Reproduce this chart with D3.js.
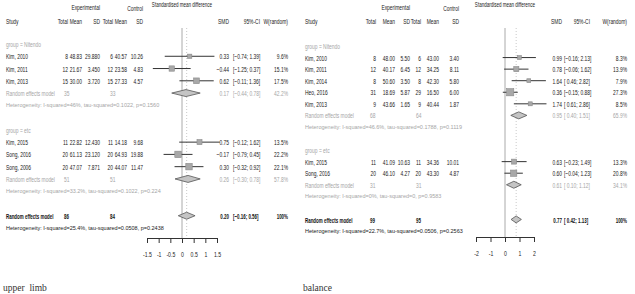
<!DOCTYPE html>
<html>
<head>
<meta charset="utf-8">
<script src="https://cdn.jsdelivr.net/npm/d3@7/dist/d3.min.js"></script>
<style>
  body { margin: 0; background: #fff; }
  text { white-space: pre; }
</style>
</head>
<body>
<svg id="chart" width="635" height="294"></svg>
<script>
// ---- upper limb ----
var ulStudy   = ["Kim, 2010", "Kim, 2011", "Kim, 2013", "Kim, 2015", "Song, 2016", "Song, 2006"];
var ulGroup   = ["Nitendo", "Nitendo", "Nitendo", "etc", "etc", "etc"];
var ulExpN    = [8, 12, 15, 11, 20, 20];
var ulExpMean = [48.83, 21.67, 30.00, 22.82, 61.13, 47.07];
var ulExpSD   = [29.880, 3.450, 3.720, 12.430, 23.120, 7.871];
var ulCtlN    = [6, 12, 15, 11, 20, 20];
var ulCtlMean = [40.57, 23.58, 27.33, 14.18, 64.93, 44.07];
var ulCtlSD   = [10.26, 4.83, 4.57, 9.68, 19.88, 11.47];
var ulSmd     = [0.33, -0.44, 0.62, 0.75, -0.17, 0.30];
var ulLo      = [-0.74, -1.25, -0.11, -0.12, -0.79, -0.32];
var ulHi      = [1.39, 0.37, 1.36, 1.62, 0.45, 0.92];
var ulW       = [9.6, 15.1, 17.5, 13.5, 22.2, 22.1];
// subgroups
var ulSubGroup = ["Nitendo", "etc"];
var ulSubExpN  = [35, 51];
var ulSubCtlN  = [33, 51];
var ulSubSmd   = [0.17, 0.26];
var ulSubLo    = [-0.44, -0.30];
var ulSubHi    = [0.78, 0.78];
var ulSubW     = [42.2, 57.8];
var ulSubHet   = ["Heterogeneity: I-squared=46%, tau-squared=0.1022, p=0.1560",
                  "Heterogeneity: I-squared=33.2%, tau-squared=0.1022, p=0.224"];
// overall
var ulAll    = [86, 84, 0.20, -0.16, 0.56, 100];   // expN, ctlN, smd, lo, hi, w
var ulAllHet = "Heterogeneity: I-squared=25.4%, tau-squared=0.0508, p=0.2438";
var ulTicks  = [-1.5, -1, -0.5, 0, 0.5, 1, 1.5];

// ---- balance ----
var baStudy   = ["Kim, 2010", "Kim, 2011", "Kim, 2014", "Heo, 2016", "Kim, 2013", "Kim, 2015", "Song, 2016"];
var baGroup   = ["Nitendo", "Nitendo", "Nitendo", "Nitendo", "Nitendo", "etc", "etc"];
var baExpN    = [8, 12, 8, 31, 9, 11, 20];
var baExpMean = [48.00, 40.17, 50.60, 18.69, 43.66, 41.09, 46.10];
var baExpSD   = [5.50, 6.45, 3.50, 5.87, 1.65, 10.63, 4.27];
var baCtlN    = [6, 12, 8, 29, 9, 11, 20];
var baCtlMean = [43.00, 34.25, 42.30, 16.50, 40.44, 34.36, 43.30];
var baCtlSD   = [3.40, 8.11, 5.80, 6.00, 1.87, 10.01, 4.87];
var baSmd     = [0.99, 0.78, 1.64, 0.36, 1.74, 0.63, 0.60];
var baLo      = [-0.16, -0.06, 0.46, -0.15, 0.61, -0.23, -0.04];
var baHi      = [2.13, 1.62, 2.82, 0.88, 2.86, 1.49, 1.23];
var baW       = [8.3, 13.9, 7.9, 27.3, 8.5, 13.3, 20.8];
var baSubGroup = ["Nitendo", "etc"];
var baSubExpN  = [68, 31];
var baSubCtlN  = [64, 31];
var baSubSmd   = [0.95, 0.61];
var baSubLo    = [0.40, 0.10];
var baSubHi    = [1.51, 1.12];
var baSubW     = [65.9, 34.1];
var baSubHet   = ["Heterogeneity: I-squared=46.6%, tau-squared=0.1788, p=0.1119",
                  "Heterogeneity: I-squared=0%, tau-squared=0, p=0.9583"];
var baAll    = [99, 95, 0.77, 0.42, 1.13, 100];
var baAllHet = "Heterogeneity: I-squared=22.7%, tau-squared=0.0506, p=0.2563";
var baTicks  = [-2, -1, 0, 1, 2];

var svg = d3.select("#chart");
var SANS = "'Liberation Sans', Arial, sans-serif";

var f2 = d3.format(".2f");
function ci(lo, hi) {
  return "[" + (lo < 0 ? "" : " ") + f2(lo) + "; " + f2(hi) + "]";
}
function wfmt(w) { return w === 100 ? "100%" : d3.format(".1f")(w) + "%"; }

function drawPanel(p) {
  var g = svg.append("g");
  var c = p.cols;

  // rows
  var rows = [];
  p.subGroup.forEach(function(grp, k) {
    rows.push({type: "group", k: k});
    p.study.forEach(function(s, i) { if (p.group[i] === grp) rows.push({type: "study", i: i}); });
    rows.push({type: "sub", k: k});
    rows.push({type: "het", k: k});
    rows.push({type: "blank"});
  });
  rows.push({type: "all"});
  rows.push({type: "allhet"});

  var y = d3.scaleLinear().domain([0, rows.length - 1]).range(p.yRange);
  var x = d3.scaleLinear().domain(p.domain).range(p.xRange);
  var sq = d3.scaleSqrt().domain([0, 30]).range([0, 7.5]);

  // condensed text: regular sans squeezed horizontally
  function txt(str, tx, ty, anchor, opts) {
    opts = opts || {};
    return g.append("text")
      .attr("transform", "translate(" + tx + "," + ty + ") scale(" + (opts.sx || 0.63) + ",1)")
      .attr("dominant-baseline", "central")
      .attr("text-anchor", anchor)
      .style("font-family", SANS)
      .style("font-size", (opts.size || 7.8) + "px")
      .style("font-weight", opts.bold ? "bold" : "normal")
      .attr("fill", opts.color || "#1a1a1a")
      .text(str);
  }

  // headers
  txt("Experimental", c.eSD, 7, "end");
  txt("Control", c.cSD, 8, "end");
  txt("Standardised mean difference", x(0), 5, "middle", {size: 7.2});
  var hy = 21;
  txt("Study", c.study, hy, "start");
  txt("Total", c.eN, hy, "end");
  txt("Mean", c.eMean, hy, "end");
  txt("SD", c.eSD, hy, "end");
  txt("Total", c.cN, hy, "end");
  txt("Mean", c.cMean, hy, "end");
  txt("SD", c.cSD, hy, "end");
  txt("SMD", c.smd, hy, "end");
  txt("95%-CI", c.ciEnd, hy, "end");
  txt("W(random)", c.w, hy, "end");

  // reference lines
  var axisY = p.axisY;
  g.append("line")
    .attr("x1", x(0)).attr("x2", x(0))
    .attr("y1", 28).attr("y2", axisY)
    .attr("stroke", "#aaa").attr("stroke-width", 1);
  g.append("line")
    .attr("x1", x(p.all[2])).attr("x2", x(p.all[2]))
    .attr("y1", 28).attr("y2", axisY)
    .attr("stroke", "#bbb").attr("stroke-width", 0.8)
    .attr("stroke-dasharray", "1,2");

  var sdFmt = d3.format(p.eSDfmt);
  var grey = "#a6a6a6";

  rows.forEach(function(r, idx) {
    var ry = y(idx);
    if (r.type === "group") {
      txt("group = " + p.subGroup[r.k], c.study, ry, "start", {color: grey});
    } else if (r.type === "study") {
      var i = r.i;
      txt(p.study[i], c.study, ry, "start");
      txt(p.expN[i], c.eN, ry, "end");
      txt(f2(p.expMean[i]), c.eMean, ry, "end");
      txt(sdFmt(p.expSD[i]), c.eSD, ry, "end");
      txt(p.ctlN[i], c.cN, ry, "end");
      txt(f2(p.ctlMean[i]), c.cMean, ry, "end");
      txt(f2(p.ctlSD[i]), c.cSD, ry, "end");
      txt(f2(p.smd[i]), c.smd, ry, "end");
      txt(ci(p.lo[i], p.hi[i]), c.ci, ry, "start");
      txt(wfmt(p.w[i]), c.w, ry, "end");
      g.append("line")
        .attr("x1", x(p.lo[i])).attr("x2", x(p.hi[i]))
        .attr("y1", ry).attr("y2", ry)
        .attr("stroke", "#333").attr("stroke-width", 1);
      var s = sq(p.w[i]);
      g.append("rect")
        .attr("x", x(p.smd[i]) - s / 2).attr("y", ry - s / 2)
        .attr("width", s).attr("height", s)
        .attr("fill", "#a8a8a8").attr("stroke", "#8a8a8a").attr("stroke-width", 0.6);
    } else if (r.type === "sub" || r.type === "all") {
      var isAll = r.type === "all";
      var k = r.k;
      var eN = isAll ? p.all[0] : p.subExpN[k];
      var cN = isAll ? p.all[1] : p.subCtlN[k];
      var m  = isAll ? p.all[2] : p.subSmd[k];
      var lo = isAll ? p.all[3] : p.subLo[k];
      var hi = isAll ? p.all[4] : p.subHi[k];
      var w  = isAll ? p.all[5] : p.subW[k];
      var o = isAll ? {bold: true, color: "#111", sx: 0.57} : {color: grey};
      txt("Random effects model", c.study, ry, "start", o);
      txt(eN, c.eNsub, ry, "start", o);
      txt(cN, c.cNsub, ry, "start", o);
      txt(f2(m), c.smd, ry, "end", o);
      txt(ci(lo, hi), c.ci, ry, "start", o);
      txt(wfmt(w), c.w, ry, "end", o);
      var dh = 3.5;
      g.append("path")
        .attr("d", "M" + x(lo) + "," + ry + "L" + x(m) + "," + (ry - dh) +
                   "L" + x(hi) + "," + ry + "L" + x(m) + "," + (ry + dh) + "Z")
        .attr("fill", "#c4c4c4").attr("stroke", "#555").attr("stroke-width", 0.8);
    } else if (r.type === "het") {
      txt(p.subHet[r.k], c.study, ry, "start", {size: 5.8, sx: 0.95, color: grey});
    } else if (r.type === "allhet") {
      txt(p.allHet, c.study, ry, "start", {size: 5.8, sx: 0.95, color: "#222"});
    }
  });

  // axis
  var ax = g.append("g")
    .attr("transform", "translate(0," + axisY + ")")
    .call(d3.axisBottom(x).tickValues(p.ticks).tickSize(5).tickSizeOuter(0).tickPadding(8)
      .tickFormat(function(d) { return String(d); }));
  ax.select(".domain").attr("stroke", "#333");
  ax.selectAll(".tick line").attr("stroke", "#333");
  ax.selectAll(".tick text")
    .attr("transform", "scale(0.66,1)")
    .style("font-family", SANS)
    .style("font-size", "7.8px").attr("fill", "#222");

  // panel title
  svg.append("text")
    .attr("x", p.titleX).attr("y", 288)
    .attr("dominant-baseline", "central")
    .style("font-family", "'Liberation Serif', 'Times New Roman', serif")
    .style("font-size", "9.5px").attr("fill", "#333")
    .text(p.title);
}

drawPanel({
  study: ulStudy, group: ulGroup, expN: ulExpN, expMean: ulExpMean, expSD: ulExpSD,
  ctlN: ulCtlN, ctlMean: ulCtlMean, ctlSD: ulCtlSD, smd: ulSmd, lo: ulLo, hi: ulHi, w: ulW,
  subGroup: ulSubGroup, subExpN: ulSubExpN, subCtlN: ulSubCtlN, subSmd: ulSubSmd,
  subLo: ulSubLo, subHi: ulSubHi, subW: ulSubW, subHet: ulSubHet,
  all: ulAll, allHet: ulAllHet, ticks: ulTicks, eSDfmt: ".3f",
  domain: [-1.5, 1.5], xRange: [147, 217], yRange: [44, 228], axisY: 238,
  cols: {study: 6, eN: 68, eMean: 82, eSD: 100, cN: 113, cMean: 127, cSD: 143,
         eNsub: 64, cNsub: 110, smd: 229, ci: 233, ciEnd: 260, w: 288},
  title: "upper  limb", titleX: 3
});

drawPanel({
  study: baStudy, group: baGroup, expN: baExpN, expMean: baExpMean, expSD: baExpSD,
  ctlN: baCtlN, ctlMean: baCtlMean, ctlSD: baCtlSD, smd: baSmd, lo: baLo, hi: baHi, w: baW,
  subGroup: baSubGroup, subExpN: baSubExpN, subCtlN: baSubCtlN, subSmd: baSubSmd,
  subLo: baSubLo, subHi: baSubHi, subW: baSubW, subHet: baSubHet,
  all: baAll, allHet: baAllHet, ticks: baTicks, eSDfmt: ".2f",
  domain: [-2, 2], xRange: [476, 534], yRange: [46, 231], axisY: 237,
  cols: {study: 305, eN: 376, eMean: 395, eSD: 410, cN: 421, cMean: 439, cSD: 459,
         eNsub: 370, cNsub: 416, smd: 562, ci: 564, ciEnd: 590, w: 627},
  title: "balance", titleX: 303
});
</script>
</body>
</html>
